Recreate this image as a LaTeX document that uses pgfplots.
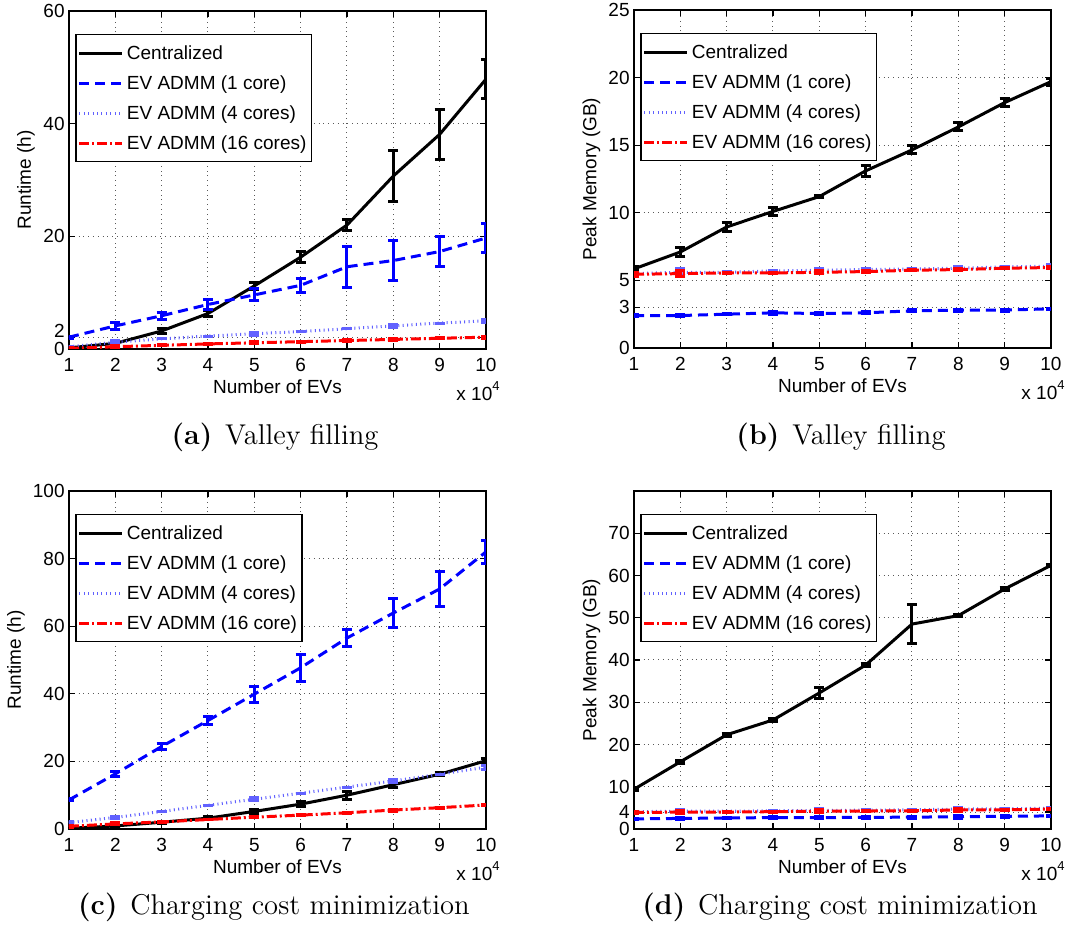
\documentclass[border=0pt]{standalone}
\usepackage{pgfplots}
\pgfplotsset{compat=1.18}
\usepackage{pgfplotstable}
\usepackage{fontspec}
\newfontfamily\arial{Liberation Sans}
\definecolor{lblue}{rgb}{0.38,0.38,1}
\pgfplotstableread{
x c ce a ae b be d de
1 0.2 0.3 2.1 0.2 0.4 0.0 0.1 0.15
2 1.0 0.3 4.1 0.6 1.2 0.3 0.4 0.15
3 3.2 0.4 5.9 0.6 1.8 0.0 0.65 0.1
4 6.3 0.5 7.9 0.9 2.3 0.0 0.9 0.1
5 11.2 0.6 9.6 1.05 2.7 0.3 1.1 0.15
6 16.3 0.95 11.3 1.25 3.1 0.0 1.3 0.1
7 22.0 1.0 14.6 3.6 3.6 0.0 1.5 0.1
8 30.7 4.5 15.7 3.5 4.1 0.3 1.7 0.15
9 38.1 4.45 17.3 2.7 4.6 0.0 1.9 0.1
10 47.9 3.4 19.7 2.5 5.0 0.3 2.1 0.15
}\tabA
\pgfplotstableread{
x c ce a ae b be d de
1 5.85 0.15 2.4 0.05 5.5 0.1 5.45 0.15
2 7.1 0.35 2.4 0.08 5.6 0.25 5.5 0.2
3 8.95 0.3 2.5 0.05 5.6 0.05 5.55 0.05
4 10.1 0.3 2.6 0.1 5.7 0.05 5.55 0.05
5 11.2 0.1 2.55 0.1 5.75 0.15 5.6 0.1
6 13.1 0.4 2.6 0.08 5.8 0.05 5.65 0.05
7 14.65 0.3 2.75 0.08 5.85 0.05 5.75 0.05
8 16.35 0.3 2.8 0.08 5.9 0.1 5.8 0.1
9 18.15 0.3 2.8 0.08 6.0 0.05 5.9 0.05
10 19.7 0.25 2.9 0.05 6.05 0.1 5.95 0.05
}\tabB
\pgfplotstableread{
x c ce a ae b be d de
1 0.2 0.3 8.6 0.3 1.9 0.4 0.8 0.3
2 0.9 0.3 16.3 0.7 3.4 0.4 1.5 0.3
3 2.0 0.3 24.4 1.0 5.2 0.0 2.1 0.1
4 3.2 0.4 32.1 1.3 7.0 0.0 2.8 0.1
5 5.2 0.5 39.9 2.35 8.8 0.5 3.5 0.2
6 7.35 0.8 47.7 4.05 10.6 0.0 4.1 0.1
7 10.0 1.2 56.5 2.5 12.4 0.0 4.8 0.1
8 13.1 0.9 63.9 4.25 14.2 0.5 5.6 0.3
9 16.2 0.5 71.0 5.25 16.2 0.0 6.3 0.1
10 20.2 0.6 82.0 3.35 18.3 0.6 7.1 0.2
}\tabC
\pgfplotstableread{
x c ce a ae b be d de
1 9.4 0.3 2.4 0.2 4.1 0.1 3.9 0.2
2 15.9 0.3 2.5 0.3 4.2 0.3 4.0 0.3
3 22.3 0.3 2.6 0.2 4.2 0.05 4.0 0.1
4 25.8 0.3 2.7 0.2 4.3 0.05 4.1 0.1
5 32.2 1.4 2.7 0.3 4.4 0.4 4.2 0.4
6 38.8 0.3 2.75 0.2 4.45 0.05 4.25 0.1
7 48.5 4.6 2.8 0.2 4.55 0.05 4.3 0.1
8 50.5 0.3 2.9 0.3 4.7 0.3 4.5 0.3
9 56.8 0.3 3.0 0.2 4.8 0.05 4.55 0.1
10 62.4 0.3 3.1 0.2 4.9 0.3 4.7 0.2
}\tabD
\newcommand{\arf}{\arial\fontsize{9.5}{11}\selectfont}
\pgfplotsset{
  cen/.style={black, solid, line width=1.5pt, mark=none},
  one/.style={blue, line width=1.5pt, dash pattern=on 5pt off 3pt, mark=none},
  four/.style={lblue, line width=1.5pt, dash pattern=on 0.5pt off 1.7pt, mark=none},
  six/.style={red, line width=1.5pt, dash pattern=on 5pt off 1.5pt on 1pt off 1.5pt, mark=none},
  base/.style={
    width=208.5pt, height=169pt, scale only axis,
    xmin=1, xmax=10, xtick={1,...,10},
    grid=major, major grid style={dotted, line width=0.5pt, black!65},
    tick align=inside, major tick length=3pt,
    axis line style={line width=0.7pt},
    every tick/.style={black, line width=0.6pt},
    tick label style={font=\arf},
    /pgf/number format/assume math mode=true,
    xticklabel style={anchor=base, yshift=-11.3pt},
    yticklabel style={anchor=east, inner sep=1pt, xshift=-1pt},
    label style={font=\arf},
    xlabel={Number of EVs},
    xlabel style={at={(axis description cs:0.5,0)}, anchor=base, yshift=-22.5pt},
    legend cell align=left,
    legend style={at={(0.015,0.932)}, anchor=north west, font=\arf,
      draw=black, line width=0.7pt, inner xsep=1pt, inner ysep=2pt, row sep=0.5pt,
      nodes={inner sep=1.5pt, text height=9pt, text depth=2.5pt}},
    legend image code/.code={\draw[##1,line cap=butt] (0pt,0pt) -- (21.5pt,0pt);},
    every axis plot/.append style={error bars/y dir=both, error bars/y explicit,
      error bars/error mark=|,
      error bars/error bar style={line width=1.5pt, solid},
      error bars/error mark options={line width=1.5pt, mark size=2.5pt, solid}},
  },
}
\newcommand{\xten}{x 10\raisebox{0.55em}{\fontsize{6.5}{7}\selectfont 4}}
\begin{document}
\begin{tikzpicture}
\useasboundingbox (0,0) rectangle (542pt,468pt);
% (a)
\begin{axis}[base, name=A, at={(34.5pt,293.5pt)}, anchor=south west,
  ymin=0, ymax=60, ytick={0,20,40,60},
  extra y ticks={2}, extra y tick style={grid=major, yticklabel style={yshift=3.6pt}},
  ylabel={Runtime (h)},
  ylabel style={at={(axis description cs:-0.103,0.5)}, anchor=center}]
\addplot[cen] table[x=x,y=c,y error=ce] {\tabA};
\addplot[one] table[x=x,y=a,y error=ae] {\tabA};
\addplot[four] table[x=x,y=b,y error=be] {\tabA};
\addplot[six] table[x=x,y=d,y error=de] {\tabA};
\legend{Centralized, EV ADMM (1 core), EV ADMM (4 cores), EV ADMM (16 cores)}
\end{axis}
\node[anchor=base east, font=\arf, inner sep=0pt] at ([xshift=7pt,yshift=-26pt]A.south east) {\xten};
% (b)
\begin{axis}[base, name=B, at={(317pt,294pt)}, anchor=south west,
  ymin=0, ymax=25, ytick={0,3,5,10,15,20,25}, ylabel={Peak Memory (GB)},
  ylabel style={at={(axis description cs:-0.102,0.5)}, anchor=center}]
\addplot[cen] table[x=x,y=c,y error=ce] {\tabB};
\addplot[one] table[x=x,y=a,y error=ae] {\tabB};
\addplot[four] table[x=x,y=b,y error=be] {\tabB};
\addplot[six] table[x=x,y=d,y error=de] {\tabB};
\legend{Centralized, EV ADMM (1 core), EV ADMM (4 cores), EV ADMM (16 cores)}
\end{axis}
\node[anchor=base east, font=\arf, inner sep=0pt] at ([xshift=7pt,yshift=-26pt]B.south east) {\xten};
% (c)
\begin{axis}[base, name=C, at={(34.5pt,53.5pt)}, anchor=south west,
  ymin=0, ymax=100, ytick={0,20,...,100}, ylabel={Runtime (h)},
  ylabel style={at={(axis description cs:-0.127,0.5)}, anchor=center}]
\addplot[cen] table[x=x,y=c,y error=ce] {\tabC};
\addplot[one] table[x=x,y=a,y error=ae] {\tabC};
\addplot[four] table[x=x,y=b,y error=be] {\tabC};
\addplot[six] table[x=x,y=d,y error=de] {\tabC};
\legend{Centralized, EV ADMM (1 core), EV ADMM (4 cores), EV ADMM (16 core)}
\end{axis}
\node[anchor=base east, font=\arf, inner sep=0pt] at ([xshift=7pt,yshift=-26pt]C.south east) {\xten};
% (d)
\begin{axis}[base, name=D, at={(317pt,53.5pt)}, anchor=south west,
  ymin=0, ymax=80, ytick={0,4,10,20,30,40,50,60,70}, ylabel={Peak Memory (GB)},
  ylabel style={at={(axis description cs:-0.102,0.5)}, anchor=center}]
\addplot[cen] table[x=x,y=c,y error=ce] {\tabD};
\addplot[one] table[x=x,y=a,y error=ae] {\tabD};
\addplot[four] table[x=x,y=b,y error=be] {\tabD};
\addplot[six] table[x=x,y=d,y error=de] {\tabD};
\legend{Centralized, EV ADMM (1 core), EV ADMM (4 cores), EV ADMM (16 cores)}
\end{axis}
\node[anchor=base east, font=\arf, inner sep=0pt] at ([xshift=7pt,yshift=-26pt]D.south east) {\xten};
% captions
\node[anchor=base, font=\fontsize{14.3}{17}\selectfont] at (137.5pt,245.5pt) {\textbf{(a)}\hspace{0.45em}Valley filling};
\node[anchor=base, font=\fontsize{14.3}{17}\selectfont] at (420.5pt,245.5pt) {\textbf{(b)}\hspace{0.45em}Valley filling};
\node[anchor=base, font=\fontsize{14.3}{17}\selectfont] at (137pt,10.5pt) {\textbf{(c)}\hspace{0.45em}Charging cost minimization};
\node[anchor=base, font=\fontsize{14.3}{17}\selectfont] at (420pt,10.5pt) {\textbf{(d)}\hspace{0.45em}Charging cost minimization};
\end{tikzpicture}
\end{document}
